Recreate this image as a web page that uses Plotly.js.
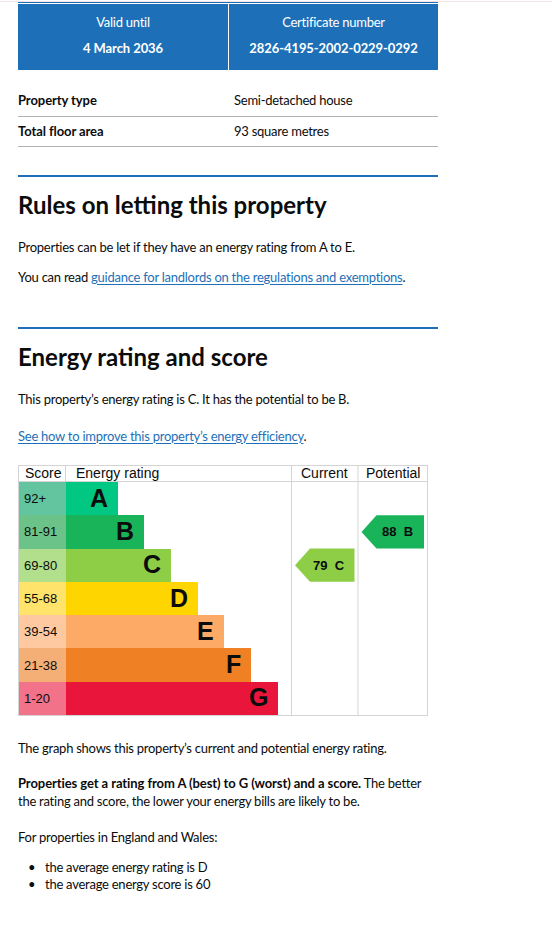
<!DOCTYPE html>
<html>
<head>
<meta charset="utf-8">
<script src="https://cdn.plot.ly/plotly-3.0.1.min.js"></script>
<style>
  html, body { margin:0; padding:0; background:#fff; }
  body { width:552px; height:929px; position:relative; overflow:hidden; font-family: Lato, "Liberation Sans", Arial, sans-serif; color:#0b0c0c; }
  .t { position:absolute; white-space:nowrap; font-size:13px; line-height:15.6px; letter-spacing:-0.25px; }
  .b { font-weight:700; letter-spacing:-0.08px; }
  .h { position:absolute; white-space:nowrap; font-size:24px; line-height:28.8px; font-weight:700; }
  .w { color:#fff; }
  .c { text-align:center; }
  .rule { position:absolute; left:18px; width:420px; }
  a { color:#1d70b8; text-decoration:underline; text-decoration-thickness:1px; text-underline-offset:2px; }
  #epc { position:absolute; left:18px; top:465px; width:410px; height:251px; }
</style>
</head>
<body>
<div style="position:absolute;left:0;top:1px;width:552px;height:1px;background:#f6e2e2;"></div>
<div style="position:absolute;left:18px;top:2px;width:420px;height:1px;background:#1d70b8;"></div>
<div style="position:absolute;left:18px;top:4px;width:420px;height:66px;background:#1d70b8;"></div>
<div style="position:absolute;left:228px;top:4px;width:1px;height:66px;background:#fff;"></div>
<div class="t w c" style="left:18px;width:210px;top:14.5px;">Valid until</div>
<div class="t w c b" style="left:18px;width:210px;top:41.2px;">4 March 2036</div>
<div class="t w c" style="left:229px;width:209px;top:14.5px;">Certificate number</div>
<div class="t w c b" style="left:229px;width:209px;top:41.2px;">2826-4195-2002-0229-0292</div>

<div class="t b" style="left:18px;top:92.5px;">Property type</div>
<div class="t" style="left:234px;top:92.5px;">Semi-detached house</div>
<div class="rule" style="top:116px;height:1px;background:#b1b4b6;"></div>
<div class="t b" style="left:18px;top:123.5px;">Total floor area</div>
<div class="t" style="left:234px;top:123.5px;">93 square metres</div>
<div class="rule" style="top:146px;height:1px;background:#b1b4b6;"></div>

<div class="rule" style="top:175px;height:2px;background:#1d70b8;"></div>
<div class="h" style="left:18px;top:190.5px;">Rules on letting this property</div>
<div class="t" style="left:18px;top:240.2px;">Properties can be let if they have an energy rating from A to E.</div>
<div class="t" style="left:18px;top:269.5px;">You can read <a>guidance for landlords on the regulations and exemptions</a>.</div>

<div class="rule" style="top:327px;height:2px;background:#1d70b8;"></div>
<div class="h" style="left:18px;top:343.2px;">Energy rating and score</div>
<div class="t" style="left:18px;top:391.9px;">This property’s energy rating is C. It has the potential to be B.</div>
<div class="t" style="left:18px;top:428.5px;"><a>See how to improve this property’s energy efficiency</a>.</div>

<div id="epc"></div>

<div class="t" style="left:18px;top:740.9px;">The graph shows this property’s current and potential energy rating.</div>
<div class="t" style="left:18px;top:776.2px;"><span class="b">Properties get a rating from A (best) to G (worst) and a score.</span> The better</div>
<div class="t" style="left:18px;top:793.5px;">the rating and score, the lower your energy bills are likely to be.</div>
<div class="t" style="left:18px;top:830.2px;">For properties in England and Wales:</div>
<div class="t" style="left:28px;top:860.2px;">•</div>
<div class="t" style="left:45px;top:860.2px;">the average energy rating is D</div>
<div class="t" style="left:28px;top:876.9px;">•</div>
<div class="t" style="left:45px;top:876.9px;">the average energy score is 60</div>

<script>
// ---- data ----
const bands = ['A','B','C','D','E','F','G'];
const scoreRanges = ['92+','81-91','69-80','55-68','39-54','21-38','1-20'];
const bandMinScores = [92, 81, 69, 55, 39, 21, 1];
const currentScore = 79;
const potentialScore = 88;
const headerLabels = ['Score', 'Energy rating', 'Current', 'Potential'];

// ---- styles ----
const bandColours  = ['#00c781','#19b459','#8dce46','#ffd500','#fcaa65','#ef8023','#e9153b'];
const scoreColours = ['#63c59f','#6cc389','#b2df8c','#ffe36a','#fec9a0','#f3af76','#f2728a'];
const FONT = '"Liberation Sans", Arial, sans-serif';
const INK = '#0b0c0c';
const GRID = '#d4d4d4';
const W = 410, H = 251;
const scoreColW = 48;          // width of score column
const barStart = 51.7, barStep = 26.67;
const curCol = [273.5, 340], potCol = [340, 409.5];

const idx = bands.map((_, i) => i);
const bandOf = s => bandMinScores.findIndex(m => s >= m);
const barLen = i => barStart + i * barStep;

const traces = [
  { type:'bar', orientation:'h', y: idx, x: idx.map(() => scoreColW), base: idx.map(() => 0),
    marker:{ color: scoreColours, line:{width:0} }, hoverinfo:'skip' },
  { type:'bar', orientation:'h', y: idx, x: idx.map(barLen), base: idx.map(() => scoreColW),
    marker:{ color: bandColours, line:{width:0} }, hoverinfo:'skip' }
];

const annotations = [];
const shapes = [];
const hdrY = 1 - 8.5 / H;
[[headerLabels[0], 5, 'left'], [headerLabels[1], 56, 'left'],
 [headerLabels[2], (curCol[0]+curCol[1])/2, 'center'], [headerLabels[3], (potCol[0]+potCol[1])/2, 'center']]
 .forEach(([t, x, a]) => annotations.push({ text:t, x:x, xref:'x', y:hdrY, yref:'paper', xanchor:a, yanchor:'middle',
    showarrow:false, font:{family:FONT, size:14, color:INK} }));

idx.forEach(i => {
  annotations.push({ text: scoreRanges[i], x: 3.5, y: i, xanchor:'left', yanchor:'middle', showarrow:false,
    font:{family:FONT, size:13, color:INK} });
  annotations.push({ text: '<b>' + bands[i] + '</b>', x: scoreColW + barLen(i) - 8, y: i - 0.03, xanchor:'right', yanchor:'middle',
    showarrow:false, font:{family:FONT, size:25, color:INK} });
});

function arrow(score, col, colour) {
  const b = bandOf(score);
  const tip = col[0] + 3.5, head = tip + 15, right = col[1] - 3.5;
  shapes.push({ type:'path', xref:'x', yref:'y', fillcolor: colour, line:{width:0},
    path: `M ${tip} ${b} L ${head} ${b-0.5} L ${right} ${b-0.5} L ${right} ${b+0.5} L ${head} ${b+0.5} Z` });
  annotations.push({ text: '<b>' + score + '&nbsp;&nbsp;' + bands[b] + '</b>', x: (head + right) / 2 - 3, y: b, xanchor:'center', yanchor:'middle',
    showarrow:false, font:{family:FONT, size:13, color:INK} });
}
arrow(currentScore, curCol, bandColours[bandOf(currentScore)]);
arrow(potentialScore, potCol, bandColours[bandOf(potentialScore)]);

// grid lines
const pTop = 1 - 0.5 / H, pHdr = 1 - 16.5 / H, pBot = 0.5 / H;
const ln = (x0, y0, x1, y1) => shapes.push({ type:'line', xref:'x', yref:'paper', x0, y0, x1, y1, line:{color:GRID, width:1} });
ln(0, pTop, W, pTop);
ln(0, pHdr, W, pHdr);
ln(0, pBot, W, pBot);
ln(0.5, pBot, 0.5, pTop);
ln(scoreColW - 0.5, pHdr, scoreColW - 0.5, pTop);
ln(curCol[0], pBot, curCol[0], pTop);
ln(potCol[0], pBot, potCol[0], pTop);
ln(potCol[1], pBot, potCol[1], pTop);

const layout = {
  width: W, height: H, margin:{l:0, r:0, t:0, b:0, pad:0},
  paper_bgcolor:'#fff', plot_bgcolor:'rgba(0,0,0,0)',
  barmode:'overlay', bargap:0, showlegend:false,
  xaxis:{ range:[0, W], visible:false, fixedrange:true },
  yaxis:{ range:[6.5, -0.5], domain:[1 / H, 234 / H], visible:false, fixedrange:true },
  shapes: shapes, annotations: annotations
};
Plotly.newPlot('epc', traces, layout, { staticPlot:true, displayModeBar:false });
</script>
</body>
</html>
